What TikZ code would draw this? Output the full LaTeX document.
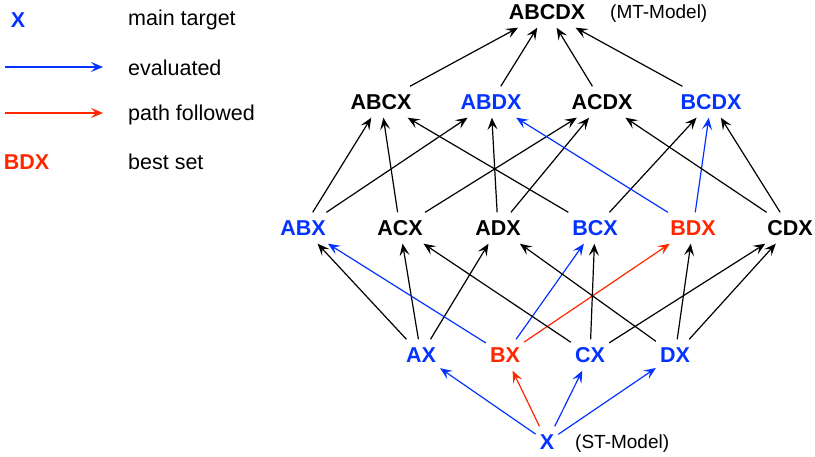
\documentclass[tikz,border=0pt]{standalone}
\usepackage{fontspec}
\setmainfont{Liberation Sans}
\usetikzlibrary{arrows.meta}
\definecolor{evalblue}{HTML}{0433FF}
\definecolor{pathred}{HTML}{FF2600}
\begin{document}
\begin{tikzpicture}[x=1pt,y=-1pt,
  set/.style={font=\fontsize{21.5}{25}\selectfont\bfseries, text height=15pt, text depth=0pt,
              inner xsep=4pt, inner ysep=8pt},
  evalset/.style={set, text=evalblue},
  bestset/.style={set, text=pathred},
  note/.style={font=\fontsize{21.5}{26}\selectfont, anchor=base west, inner sep=0pt},
  model/.style={font=\fontsize{19}{23}\selectfont, anchor=base west, inner sep=0pt},
  link/.style={-{Stealth[length=12pt,width=10pt,inset=5pt]}, line width=1.2pt, black},
  evallink/.style={link, evalblue},
  pathlink/.style={link, pathred}]
\useasboundingbox (0,0) rectangle (815,457);

% legend
\node[evalset] (keyX) at (18,20) {X};
\node[note] (keyXt) at (128,26) {main target};
\coordinate (evA) at (5,67); \coordinate (evB) at (103,67);
\draw[evallink] (evA) -- (evB);
\node[note] (keyEv) at (128,76) {evaluated};
\coordinate (pfA) at (5,113); \coordinate (pfB) at (103,113);
\draw[pathlink] (pfA) -- (pfB);
\node[note] (keyPf) at (128,121) {path followed};
\node[bestset] (keyBest) at (26.5,162) {BDX};
\node[note] (keyBestt) at (128,170) {best set};

% lattice of feature sets
\node[set] (ABCDX) at (547,12) {ABCDX};
\node[model] (mt) at (610,19) {(MT-Model)};

\node[set]     (ABCX) at (381,102) {ABCX};
\node[evalset] (ABDX) at (491,102) {ABDX};
\node[set]     (ACDX) at (602,102) {ACDX};
\node[evalset] (BCDX) at (711,102) {BCDX};

\node[evalset] (ABX) at (303,228) {ABX};
\node[set]     (ACX) at (400,228) {ACX};
\node[set]     (ADX) at (498,228) {ADX};
\node[evalset] (BCX) at (595,228) {BCX};
\node[bestset] (BDX) at (693,228) {BDX};
\node[set]     (CDX) at (790,228) {CDX};

\node[evalset] (AX) at (421,355) {AX};
\node[bestset] (BX) at (505,355) {BX};
\node[evalset] (CX) at (590,355) {CX};
\node[evalset] (DX) at (675,355) {DX};

\node[evalset] (X) at (547,442) {X};
\node[model] (st) at (575,448) {(ST-Model)};

% single target to pairs
\draw[evallink] (X) -- (AX);
\draw[pathlink] (X) -- (BX);
\draw[evallink] (X) -- (CX);
\draw[evallink] (X) -- (DX);

% pairs to triples
\draw[link] (AX) -- (ABX);
\draw[link] (AX) -- (ACX);
\draw[link] (AX) -- (ADX);
\draw[evallink] (BX) -- (ABX);
\draw[evallink] (BX) -- (BCX);
\draw[pathlink] (BX) -- (BDX);
\draw[link] (CX) -- (ACX);
\draw[link] (CX) -- (BCX);
\draw[link] (CX) -- (CDX);
\draw[link] (DX) -- (ADX);
\draw[link] (DX) -- (BDX);
\draw[link] (DX) -- (CDX);

% triples to quadruples
\draw[link] (ABX) -- (ABCX);
\draw[link] (ABX) -- (ABDX);
\draw[link] (ACX) -- (ABCX);
\draw[link] (ACX) -- (ACDX);
\draw[link] (ADX) -- (ABDX);
\draw[link] (ADX) -- (ACDX);
\draw[link] (BCX) -- (ABCX);
\draw[link] (BCX) -- (BCDX);
\draw[evallink] (BDX) -- (ABDX);
\draw[evallink] (BDX) -- (BCDX);
\draw[link] (CDX) -- (ACDX);
\draw[link] (CDX) -- (BCDX);

% quadruples to the full set
\draw[link] (ABCX) -- (ABCDX);
\draw[link] (ABDX) -- (ABCDX);
\draw[link] (ACDX) -- (ABCDX);
\draw[link] (BCDX) -- (ABCDX);
\end{tikzpicture}
\end{document}
